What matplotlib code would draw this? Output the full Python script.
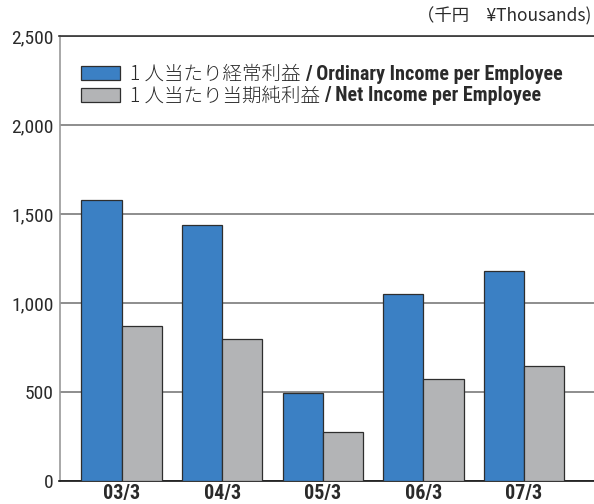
import numpy as np
import matplotlib
matplotlib.use('Agg')
import matplotlib.pyplot as plt
from matplotlib.patches import Patch

# data (thousand yen)
years = ['03/3', '04/3', '05/3', '06/3', '07/3']
ordinary_income = [1580, 1440, 495, 1050, 1180]
net_income = [870, 800, 275, 575, 645]
label_jp = ['1 人当たり経常利益 ', '1 人当たり当期純利益 ']
label_en = ['/ Ordinary Income per Employee', '/ Net Income per Employee']

blue = '#3b80c4'
gray = '#b3b4b6'
edge = '#2e2e2e'
txt = '#2a2a2a'
narrow = ['Liberation Sans Narrow', 'Roboto Condensed', 'Liberation Sans']
jp = ['Noto Sans CJK JP', 'DejaVu Sans']

fig = plt.figure(figsize=(5.94, 5.04), dpi=100)
ax = fig.add_axes([59.5 / 594, 23 / 504, 534.5 / 594, 445 / 504])

x = np.arange(len(years))
w = 0.4
ax.bar(x - w / 2, ordinary_income, w, color=blue, edgecolor=edge, linewidth=0.9, zorder=3)
ax.bar(x + w / 2, net_income, w, color=gray, edgecolor=edge, linewidth=0.9, zorder=3)

ax.set_xlim(-0.617, 4.696)
ax.set_ylim(0, 2500)
ax.set_yticks(np.arange(0, 2501, 500))
ax.set_yticklabels([f'{v:,}' for v in range(0, 2501, 500)], family=narrow,
                   fontsize=14, color=txt)
ax.set_xticks(x)
ax.set_xticklabels(years, family=narrow, fontsize=14.5, fontweight='bold', color=txt)
ax.tick_params(length=0, pad=4)
ax.tick_params(axis='x', pad=2)
ax.yaxis.grid(True, color='#7a7a7a', linewidth=1.2, zorder=0)
ax.set_axisbelow(True)

ax.spines['right'].set_visible(False)
ax.spines['left'].set_color('#9a9a9a')
ax.spines['top'].set_color('#333333')
ax.spines['bottom'].set_color('#111111')
for s in ['left', 'top', 'bottom']:
    ax.spines[s].set_linewidth(1.2)

handles = [Patch(facecolor=blue, edgecolor=edge, linewidth=0.9),
           Patch(facecolor=gray, edgecolor=edge, linewidth=0.9)]
leg = ax.legend(handles, label_jp, loc='upper left', bbox_to_anchor=(0.041, 0.937),
                frameon=False, borderpad=0, borderaxespad=0, handlelength=2.0,
                handleheight=0.72, handletextpad=0.5, labelspacing=0.02,
                prop={'family': jp, 'size': 14, 'weight': 'light'})
for t in leg.get_texts():
    t.set_color(txt)

# english part of each legend label sits right after the japanese text
fig.canvas.draw()
inv = fig.transFigure.inverted()
for t, en in zip(leg.get_texts(), label_en):
    bb = t.get_window_extent()
    x0, y0 = inv.transform((bb.x1, (bb.y0 + bb.y1) / 2))
    fig.text(x0, y0, en, va='center', ha='left', family=narrow,
             fontsize=14.5, fontweight='bold', color=txt)

fig.text(591 / 594, 1 - 16 / 504, '（千円　¥Thousands)', ha='right', va='center',
         family=jp, fontsize=12.5, color=txt)

plt.savefig('out.png', dpi=100)
